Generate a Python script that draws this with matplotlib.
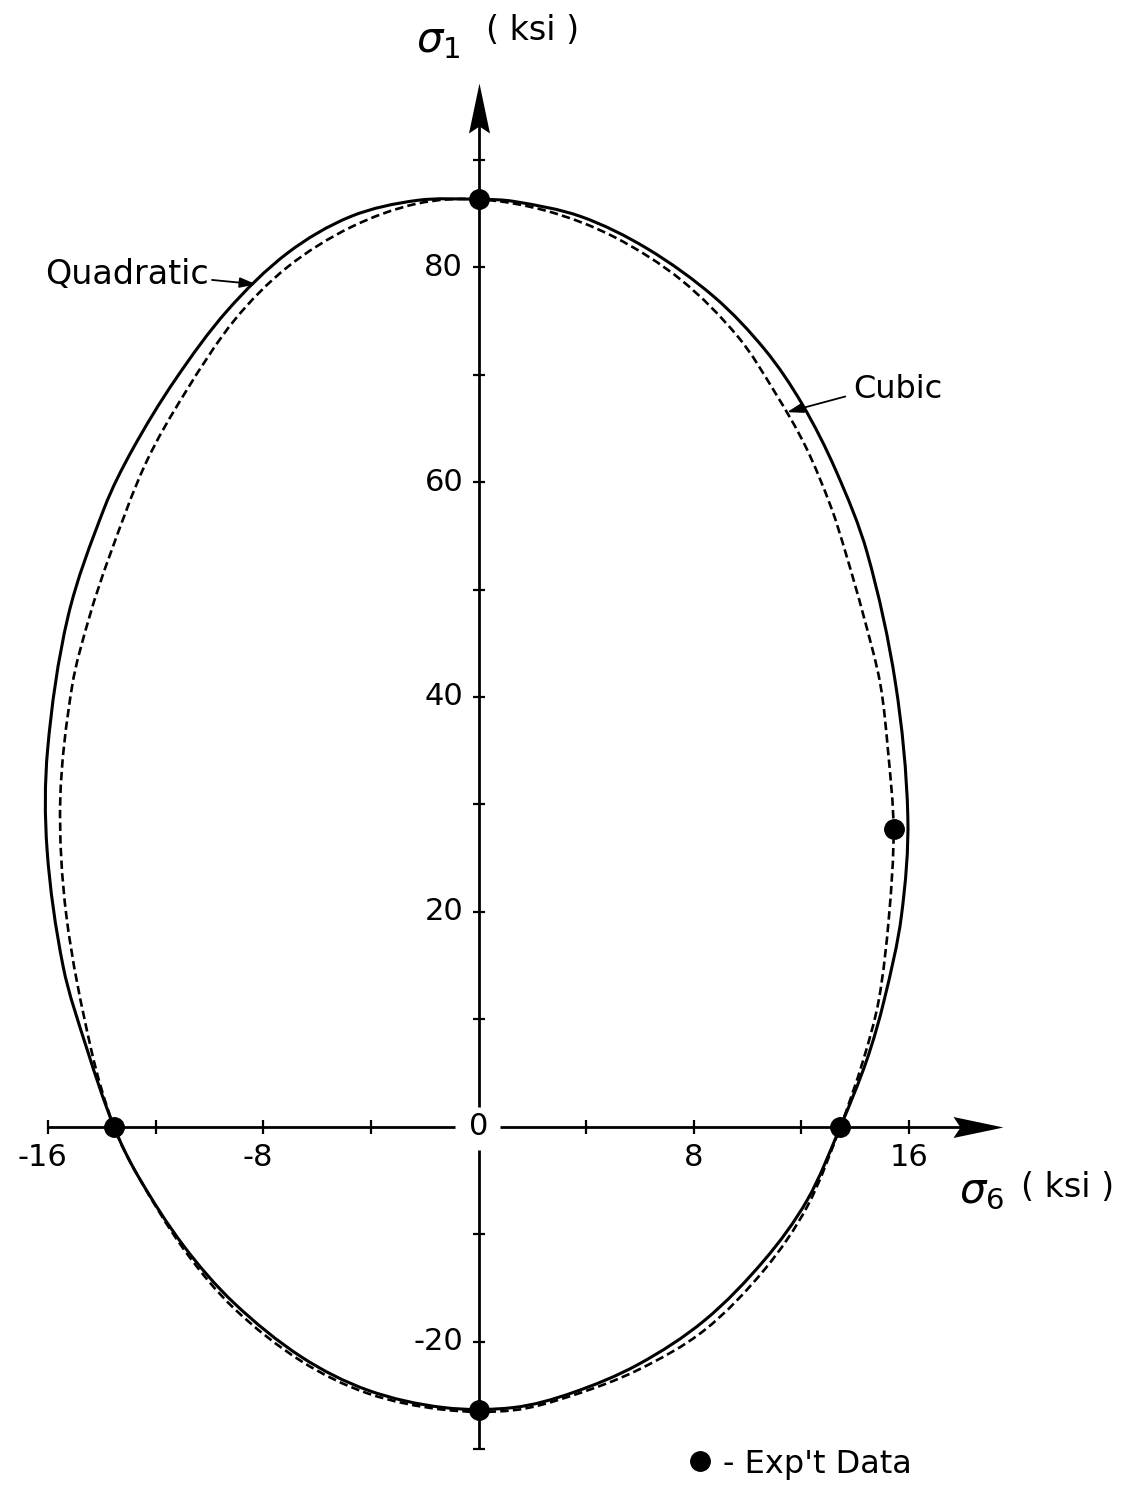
import matplotlib
matplotlib.use("Agg")
import matplotlib.pyplot as plt
import numpy as np
from matplotlib.path import Path
from matplotlib.patches import PathPatch


# failure envelopes in the sigma_6 / sigma_1 plane (ksi),
# read counter-clockwise starting from the top of the sigma_1 axis
quad_s6 = [0.0, -2.28, -4.75, -7.10, -9.32, -11.28, -12.87, -13.91, -15.26,
           -16.02, -16.04, -15.44, -14.55, -13.55, -12.65, -10.95, -9.08,
           -6.58, -4.10, -1.30, 1.30, 3.46, 5.93, 8.40, 10.62, 12.22, 13.45,
           14.43, 15.08, 15.72, 15.96, 15.50, 14.45, 13.28, 12.02, 10.65,
           8.77, 6.28, 3.80, 1.32, 0.0]
quad_s1 = [86.3, 86.2, 84.7, 81.3, 76.0, 69.5, 63.0, 57.6, 47.5,
           35.1, 25.8, 14.9, 7.2, 0.0, -4.6, -11.1, -16.4,
           -21.4, -24.5, -26.1, -26.1, -24.75, -22.1, -18.0, -12.4, -6.8, 0.0,
           6.2, 11.8, 19.6, 28.9, 41.3, 53.4, 61.1, 67.3, 72.3,
           77.2, 81.7, 84.7, 86.1, 86.3]

cubic_s6 = [0.0, -2.28, -4.75, -7.10, -9.06, -10.91, -12.38, -13.72, -14.46,
            -15.11, -15.55, -15.32, -14.40, -13.55, -12.65, -10.95, -9.08,
            -6.58, -4.10, -1.30, 1.30, 3.46, 5.93, 8.40, 10.62, 12.22, 13.45,
            14.30, 14.88, 15.26, 15.43, 15.22, 14.93, 14.32, 13.65, 13.10,
            12.16, 11.03, 9.65, 7.53, 5.04, 2.56, 0.0]
cubic_s1 = [86.3, 85.9, 83.7, 80.0, 75.1, 68.3, 61.7, 53.1, 47.5,
            41.0, 30.4, 19.6, 7.2, 0.0, -4.6, -11.4, -16.9,
            -21.8, -24.8, -26.3, -26.35, -25.0, -22.6, -18.9, -13.3, -7.4, 0.0,
            6.2, 11.8, 19.6, 27.7, 35.1, 41.3, 47.5, 53.4, 57.7,
            63.3, 68.3, 73.5, 78.8, 82.8, 85.2, 86.3]

# measured strengths
exp_s6 = [0.0, -13.55, 0.0, 13.45, 15.43]
exp_s1 = [86.3, 0.0, -26.3, 0.0, 27.7]

x_ticks = [-16, -12, -8, -4, 4, 8, 12, 16]
x_label_pos = [-16, -8, 8, 16]
x_tick_labels = ["-16", "-8", "8", "16"]
y_ticks = [-30, -20, -10, 10, 20, 30, 40, 50, 60, 70, 80, 90]
y_label_pos = [-20, 20, 40, 60, 80]
y_tick_labels = ["-20", "20", "40", "60", "80"]


def closed_curve(ax, xs, ys):
    """
    closed bezier path through every point; tangents use chord lengths
    measured on screen so uneven spacing does not leave corners
    """
    pts = np.column_stack([xs, ys]).astype(float)
    if np.allclose(pts[0], pts[-1]):
        pts = pts[:-1]
    n = len(pts)
    scr = ax.transData.transform(pts)
    chord = np.hypot(*(np.roll(scr, -1, axis=0) - scr).T)  # i -> i+1
    tang = np.empty_like(pts)
    for i in range(n):
        tang[i] = (pts[(i + 1) % n] - pts[i - 1]) / (chord[i - 1] + chord[i])
    verts = [tuple(pts[0])]
    codes = [Path.MOVETO]
    for i in range(n):
        j = (i + 1) % n
        c1 = pts[i] + tang[i] * chord[i] / 3
        c2 = pts[j] - tang[j] * chord[i] / 3
        verts += [tuple(c1), tuple(c2), tuple(pts[j])]
        codes += [Path.CURVE4] * 3
    return Path(verts, codes)


def arrow_head(direction):
    """
    notched arrow head marker with its tip on the plotted point
    """
    shape = [(0, 0), (-1, 0.21), (-0.86, 0), (-1, -0.21), (0, 0)]
    if direction == "up":
        shape = [(y, x) for x, y in shape]
    codes = [Path.MOVETO, Path.LINETO, Path.LINETO, Path.LINETO, Path.CLOSEPOLY]
    return Path(shape, codes)


def draw_axes(ax):
    """
    axes through the origin, with crossing ticks and arrow heads
    """
    # both axes are broken around the "0" label
    ax.plot([-16, -0.88], [0, 0], color="k", lw=2.0, solid_capstyle="butt")
    ax.plot([0.8, 18.5], [0, 0], color="k", lw=2.0, solid_capstyle="butt")
    ax.plot([0, 0], [-30, -2.1], color="k", lw=2.0, solid_capstyle="butt")
    ax.plot([0, 0], [1.9, 94.5], color="k", lw=2.0, solid_capstyle="butt")
    ax.plot([19.5], [0], marker=arrow_head("right"), ms=72, mew=0, color="k")
    ax.plot([0], [97.1], marker=arrow_head("up"), ms=72, mew=0, color="k")

    ax.plot(x_ticks, [0] * len(x_ticks), ls="none", marker="|", ms=10,
            mew=1.6, color="k")
    ax.plot([0] * len(y_ticks), y_ticks, ls="none", marker="_", ms=9,
            mew=1.6, color="k")

    font = dict(fontsize=22, family="DejaVu Sans")
    for x, lab in zip(x_label_pos, x_tick_labels):
        dx = -4 if lab.startswith("-") else 0
        ax.annotate(lab, xy=(x, 0), xytext=(dx, -22), textcoords="offset points",
                    ha="center", va="center", **font)
    for y, lab in zip(y_label_pos, y_tick_labels):
        ax.annotate(lab, xy=(0, y), xytext=(-11, 0), textcoords="offset points",
                    ha="right", va="center", **font)
    ax.text(0, 0, "0", ha="center", va="center", **font)

    ax.text(-1.51, 101.1, r"$\sigma_1$", fontsize=30, ha="center", va="center")
    ax.text(0.26, 102.0, "( ksi )", fontsize=24, ha="left", va="center")
    ax.text(18.71, -6.0, r"$\sigma_6$", fontsize=30, ha="center", va="center")
    ax.text(20.17, -5.67, "( ksi )", fontsize=24, ha="left", va="center")


def draw_envelopes(ax):
    """
    quadratic (solid) and cubic (dashed) criteria with the test points
    """
    ax.add_patch(PathPatch(closed_curve(ax, quad_s6, quad_s1), fill=False,
                           edgecolor="k", lw=2.2))
    ax.add_patch(PathPatch(closed_curve(ax, cubic_s6, cubic_s1), fill=False,
                           edgecolor="k", lw=1.9, ls=(0, (3.2, 1.6))))
    ax.plot(exp_s6, exp_s1, ls="none", marker="o", ms=14, color="k", zorder=5)

    small_head = "-|>,head_length=0.7,head_width=0.22"
    ax.annotate("Quadratic", xy=(-8.27, 78.4), xytext=(-16.1, 78.4),
                fontsize=24, ha="left", va="baseline",
                arrowprops=dict(arrowstyle=small_head, mutation_scale=14,
                                lw=1.3, color="k", shrinkA=0, shrinkB=0,
                                relpos=(1.0, 0.35)))
    ax.annotate("Cubic", xy=(11.47, 66.5), xytext=(13.94, 67.8),
                fontsize=23, ha="left", va="baseline",
                arrowprops=dict(arrowstyle=small_head, mutation_scale=14,
                                lw=1.3, color="k", shrinkA=4, shrinkB=0,
                                relpos=(0.0, 0.35)))

    ax.plot([8.22], [-31.1], ls="none", marker="o", ms=14, color="k")
    ax.text(9.08, -32.16, "- Exp't Data", fontsize=23, ha="left", va="baseline")


def main():
    fig = plt.figure(figsize=(11.23, 14.93), dpi=100)
    ax = fig.add_axes([0, 0, 1, 1])
    ax.set_xlim(-17.79, 23.96)
    ax.set_ylim(-34.05, 104.84)
    ax.axis("off")
    draw_axes(ax)
    draw_envelopes(ax)
    fig.savefig("out.png", dpi=100, facecolor="white")


if __name__ == "__main__":
    main()
